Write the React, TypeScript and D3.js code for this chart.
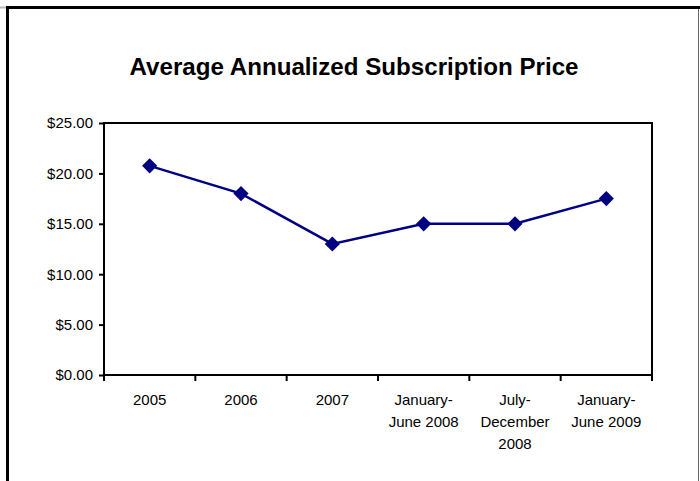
import { useEffect, useRef } from "react";
import * as d3 from "d3";

// categories and values
const categories = ["2005", "2006", "2007", "January-|June 2008", "July-|December|2008", "January-|June 2009"];
const prices = [20.75, 18.0, 13.0, 15.0, 15.0, 17.5];
const yTicks = [0, 5, 10, 15, 20, 25];
const title = "Average Annualized Subscription Price";

export default function App() {
  const svgRef = useRef<SVGSVGElement>(null);

  useEffect(() => {
    if (!svgRef.current) return;
    const svg = d3.select(svgRef.current);
    svg.selectAll("*").remove();

    const W = 700;
    const H = 481;
    const plot = { left: 104, right: 652, top: 123, bottom: 375 };
    const font = "'Liberation Sans', Arial, sans-serif";

    svg.append("rect").attr("width", W).attr("height", H).attr("fill", "white");

    // outer frame
    svg.append("line").attr("x1", 0).attr("x2", 7).attr("y1", 7.5).attr("y2", 7.5)
      .attr("stroke", "#bbb").attr("stroke-width", 2);
    svg.append("line").attr("x1", 6).attr("x2", W).attr("y1", 7.5).attr("y2", 7.5)
      .attr("stroke", "#000").attr("stroke-width", 3);
    svg.append("line").attr("x1", 7.5).attr("x2", 7.5).attr("y1", 6).attr("y2", H)
      .attr("stroke", "#000").attr("stroke-width", 3);
    svg.append("line").attr("x1", 698.5).attr("x2", 698.5).attr("y1", 9).attr("y2", H)
      .attr("stroke", "#666").attr("stroke-width", 1);

    // title
    svg.append("text")
      .attr("x", 354).attr("y", 75)
      .attr("text-anchor", "middle")
      .attr("font-family", font).attr("font-weight", "bold")
      .attr("font-size", 24)
      .attr("textLength", 449).attr("lengthAdjust", "spacingAndGlyphs")
      .text(title);

    const x = d3.scaleBand<string>().domain(categories).range([plot.left, plot.right]).padding(0);
    const y = d3.scaleLinear().domain([0, 25]).range([plot.bottom, plot.top]);

    // plot area box
    svg.append("rect")
      .attr("x", plot.left).attr("y", plot.top)
      .attr("width", plot.right - plot.left).attr("height", plot.bottom - plot.top)
      .attr("fill", "none").attr("stroke", "#000").attr("stroke-width", 2);

    // y axis
    const yAxis = svg.append("g")
      .attr("transform", `translate(${plot.left},0)`)
      .call(d3.axisLeft(y).tickValues(yTicks).tickSize(5).tickPadding(6).tickFormat((d) => `$${(+d).toFixed(2)}`));
    yAxis.select(".domain").remove();
    yAxis.selectAll("line").attr("stroke", "#000").attr("stroke-width", 2);
    yAxis.selectAll("text").attr("fill", "#000").style("font-size", "15px").style("font-family", font);

    // x axis ticks at category boundaries
    const bounds = [...categories.map((c) => x(c)!), plot.right];
    svg.append("g").selectAll("line")
      .data(bounds)
      .join("line")
      .attr("x1", (d) => d).attr("x2", (d) => d)
      .attr("y1", plot.bottom).attr("y2", plot.bottom + 6)
      .attr("stroke", "#000").attr("stroke-width", 2);

    // x labels
    const labels = svg.append("g");
    categories.forEach((c) => {
      const t = labels.append("text")
        .attr("x", x(c)! + x.bandwidth() / 2)
        .attr("y", 405)
        .attr("text-anchor", "middle")
        .attr("font-family", font)
        .attr("font-size", 15)
        .attr("fill", "#000");
      c.split("|").forEach((part, i) => {
        t.append("tspan")
          .attr("x", x(c)! + x.bandwidth() / 2)
          .attr("dy", i === 0 ? 0 : 22)
          .text(part);
      });
    });

    // line
    const cx = (i: number) => x(categories[i])! + x.bandwidth() / 2;
    const line = d3.line<number>().x((_, i) => cx(i)).y((d) => y(d));
    svg.append("path")
      .datum(prices)
      .attr("fill", "none")
      .attr("stroke", "#000080")
      .attr("stroke-width", 2.5)
      .attr("d", line);

    // diamond markers
    svg.append("g").selectAll("path")
      .data(prices)
      .join("path")
      .attr("transform", (d, i) => `translate(${cx(i)},${y(d)}) rotate(45)`)
      .attr("d", d3.symbol().type(d3.symbolSquare).size(115))
      .attr("fill", "#000080");
  }, []);

  return (
    <div style={{ position: "absolute", left: 0, top: 0 }}>
      <svg ref={svgRef} width={700} height={481} style={{ display: "block" }} />
    </div>
  );
}
